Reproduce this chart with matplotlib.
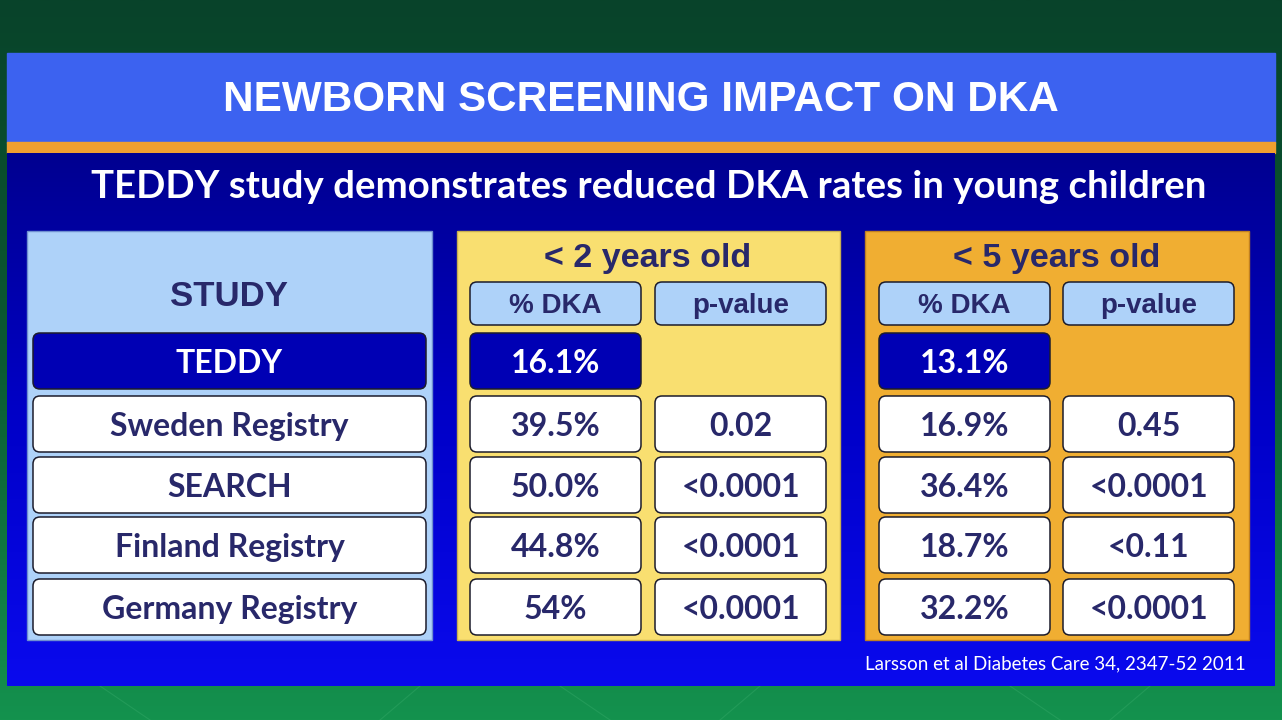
import numpy as np
import matplotlib.pyplot as plt
from matplotlib.patches import FancyBboxPatch, Rectangle
from matplotlib.colors import LinearSegmentedColormap

# slide texts / table data
title = "NEWBORN SCREENING IMPACT ON DKA"
subtitle = "TEDDY study demonstrates reduced DKA rates in young children"
citation = "Larsson et al Diabetes Care 34, 2347-52 2011"

studies = ["TEDDY", "Sweden Registry", "SEARCH", "Finland Registry", "Germany Registry"]
group_titles = ["< 2 years old", "< 5 years old"]
col_heads = ["% DKA", "p-value"]
dka_under2 = ["16.1%", "39.5%", "50.0%", "44.8%", "54%"]
p_under2 = ["", "0.02", "<0.0001", "<0.0001", "<0.0001"]
dka_under5 = ["13.1%", "16.9%", "36.4%", "18.7%", "32.2%"]
p_under5 = ["", "0.45", "<0.0001", "<0.11", "<0.0001"]

NAVY_TXT = "#28286a"
CELL_DARK = "#0000b4"
LIGHT_BLUE = "#aed2f9"
YELLOW = "#f9df70"
ORANGE = "#f0ae32"
CALIBRI = ["Lato", "DejaVu Sans"]
ARIAL = ["Liberation Sans", "DejaVu Sans"]

fig = plt.figure(figsize=(12.82, 7.2), dpi=100)
ax = fig.add_axes([0, 0, 1, 1])
ax.set_xlim(0, 1282)
ax.set_ylim(720, 0)
ax.axis("off")

# green background gradient
green = LinearSegmentedColormap.from_list("g", ["#08432a", "#0b5a32", "#14924e"])
ax.imshow(np.linspace(0, 1, 256).reshape(-1, 1), extent=[0, 1282, 720, 0],
          cmap=green, aspect="auto", zorder=0)
for x0, x1 in [(100, 150), (420, 380), (560, 610), (760, 720), (1010, 1060), (1150, 1110)]:
    ax.plot([x0, x1], [686, 720], color="#3fb070", lw=0.8, alpha=0.35, zorder=0.5)

# header bar + orange stripe
ax.add_patch(Rectangle((7, 53), 1268, 90, color="#3c62f0", zorder=1))
ax.add_patch(Rectangle((7, 142), 1268, 11, color="#f0a030", zorder=1))

# main panel with vertical gradient
blue = LinearSegmentedColormap.from_list("b", ["#000090", "#0000c8", "#0a0aee"])
ax.imshow(np.linspace(0, 1, 256).reshape(-1, 1), extent=[7, 1275, 686, 153],
          cmap=blue, aspect="auto", zorder=1)

ax.text(641, 100, title, color="white", fontsize=30.4, fontweight="bold",
        family=ARIAL, ha="center", va="center", zorder=5)
ax.text(649, 187, subtitle, color="white", fontsize=27.6, fontweight="bold",
        family=CALIBRI, ha="center", va="center", zorder=5)
ax.text(1246, 664, citation, color="white", fontsize=13.5,
        family=CALIBRI, ha="right", va="center", zorder=5)

# group panels
ax.add_patch(Rectangle((27, 231), 405, 409, facecolor=LIGHT_BLUE, edgecolor="#6f8fd0", lw=1, zorder=2))
ax.add_patch(Rectangle((457, 231), 383, 409, facecolor=YELLOW, edgecolor="#c8b050", lw=1, zorder=2))
ax.add_patch(Rectangle((865, 231), 384, 409, facecolor=ORANGE, edgecolor="#c08020", lw=1, zorder=2))


def cell(x, y, w, h, text, face, tcolor, font, size):
    ax.add_patch(FancyBboxPatch((x, y), w, h, boxstyle="round,pad=0,rounding_size=7",
                                facecolor=face, edgecolor="#1c1c2c", lw=1.1, zorder=3))
    ax.text(x + w / 2, y + h / 2 + 2.5, text, color=tcolor, fontsize=size, fontweight="bold",
            family=font, ha="center", va="center", zorder=4)


row_y = [333, 396, 457, 517, 579]
row_h = 56

ax.text(229, 296, "STUDY", color=NAVY_TXT, fontsize=25, fontweight="bold",
        family=ARIAL, ha="center", va="center", zorder=4)
for i, name in enumerate(studies):
    face = CELL_DARK if i == 0 else "white"
    tc = "white" if i == 0 else NAVY_TXT
    cell(33, row_y[i], 393, row_h, name, face, tc, CALIBRI, 23)

groups = [(470, 655, dka_under2, p_under2), (879, 1063, dka_under5, p_under5)]
for g, (xd, xp, dka, pv) in enumerate(groups):
    cx = (xd + xp + 171) / 2
    ax.text(cx, 259, group_titles[g], color=NAVY_TXT, fontsize=24.5, fontweight="bold",
            family=ARIAL, ha="center", va="center", zorder=4)
    cell(xd, 282, 171, 43, col_heads[0], LIGHT_BLUE, NAVY_TXT, ARIAL, 20)
    cell(xp, 282, 171, 43, col_heads[1], LIGHT_BLUE, NAVY_TXT, ARIAL, 20)
    for i in range(len(studies)):
        face = CELL_DARK if i == 0 else "white"
        tc = "white" if i == 0 else NAVY_TXT
        cell(xd, row_y[i], 171, row_h, dka[i], face, tc, CALIBRI, 23)
        if pv[i]:
            cell(xp, row_y[i], 171, row_h, pv[i], "white", NAVY_TXT, CALIBRI, 23)

fig.savefig("out.png", dpi=100)
